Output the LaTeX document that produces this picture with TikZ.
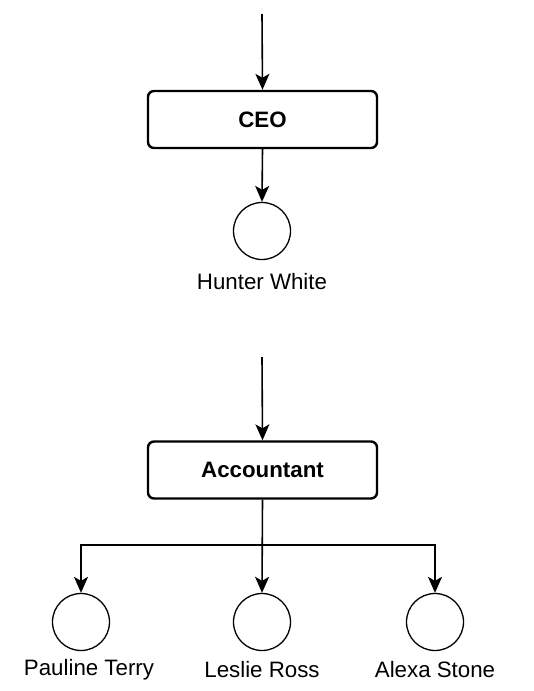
\documentclass[tikz,border=0pt]{standalone}
\usepackage{fontspec}
\setmainfont{Liberation Sans}
\usetikzlibrary{arrows.meta}
\begin{document}
\begin{tikzpicture}[x=1pt,y=-1pt,
  rolebox/.style={draw,line width=2.4pt,rounded corners=6pt,minimum width=229pt,minimum height=57pt,inner sep=0pt,font=\fontsize{22.3}{25}\selectfont\bfseries},
  person/.style={draw,circle,line width=1.3pt,minimum size=57pt,inner sep=0pt},
  plabel/.style={font=\fontsize{22.3}{25}\selectfont,inner sep=0pt},
  conn/.style={line width=1.6pt,-{Stealth[length=16pt,width=14pt,inset=4pt]}}]
\useasboundingbox (0,0) rectangle (533,691);
% top group
\coordinate (t1) at (262,14);
\node[rolebox] (ceo) at (262.5,119.5) {CEO};
\node[person] (hw) at (262,231) {};
\node[plabel] (hwl) at (262,282) {Hunter White};
\draw[conn] (t1) -- (ceo.north);
\draw[conn] (ceo.south) -- (hw.north);
% bottom group
\coordinate (t2) at (262,357);
\node[rolebox] (acc) at (262.5,470) {Accountant};
\node[person] (pt) at (81,622) {};
\node[person] (lr) at (262,622) {};
\node[person] (as) at (435,622) {};
\node[plabel] (ptl) at (89,670) {Pauline Terry};
\node[plabel] (lrl) at (262,670) {Leslie Ross};
\node[plabel] (asl) at (435,670) {Alexa Stone};
\coordinate (bus) at (262,545);
\draw[conn] (t2) -- (acc.north);
\draw[conn] (acc.south) -- (lr.north);
\draw[conn] (acc.south) |- (bus) -| (pt.north);
\draw[conn] (acc.south) |- (bus) -| (as.north);
\end{tikzpicture}
\end{document}
